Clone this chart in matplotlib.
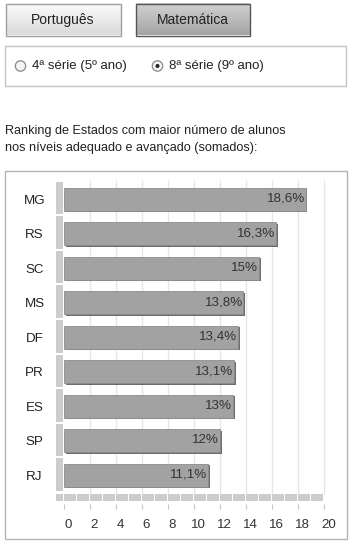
import numpy as np
import matplotlib
matplotlib.use("Agg")
import matplotlib.pyplot as plt
from matplotlib.patches import Rectangle, Circle
import matplotlib.patheffects as pe
import matplotlib.transforms as mtransforms

plt.rcParams['font.family'] = ['Liberation Sans', 'DejaVu Sans']

# ---- data ----
states = ["MG", "RS", "SC", "MS", "DF", "PR", "ES", "SP", "RJ"]
values = [18.6, 16.3, 15.0, 13.8, 13.4, 13.1, 13.0, 12.0, 11.1]
xticks = list(range(0, 21, 2))
title_lines = ["Ranking de Estados com maior número de alunos",
               "nos níveis adequado e avançado (somados):"]
buttons = ["Português", "Matemática"]
radio_labels = ["4ª série (5º ano)", "8ª série (9º ano)"]

W, H = 349, 544
fig = plt.figure(figsize=(W / 100, H / 100), dpi=100)
fig.patch.set_facecolor("white")

# ---- background / decoration axes in pixel coordinates ----
bg = fig.add_axes([0, 0, 1, 1])
bg.set_xlim(0, W)
bg.set_ylim(H, 0)
bg.axis("off")

def grad_button(x0, y0, x1, y1, ctop, cbot, edge, label):
    g = np.linspace(0, 1, 64).reshape(-1, 1)
    c0 = np.array(matplotlib.colors.to_rgb(ctop))
    c1 = np.array(matplotlib.colors.to_rgb(cbot))
    img = c0[None, None, :] * (1 - g[:, :, None]) + c1[None, None, :] * g[:, :, None]
    bg.imshow(img, extent=(x0, x1, y1, y0), aspect="auto", zorder=1)
    bg.add_patch(Rectangle((x0, y0), x1 - x0, y1 - y0, fill=False,
                           edgecolor=edge, lw=1.0, zorder=2))
    bg.text((x0 + x1) / 2, (y0 + y1) / 2 + 0.5, label, ha="center", va="center",
            fontsize=10, color="#222222", zorder=3)

grad_button(5.5, 3.5, 120.5, 35.5, "#fbfbfb", "#dadada", "#a0a0a0", buttons[0])
grad_button(135.5, 3.5, 249.5, 35.5, "#d2d2d2", "#a4a4a4", "#555555", buttons[1])

# radio box
bg.add_patch(Rectangle((4.5, 45.5), 341, 40, fill=False, edgecolor="#c4c4c4", lw=1.0))
for cx, lab, sel in [(20.5, radio_labels[0], False), (157.5, radio_labels[1], True)]:
    bg.add_patch(Circle((cx, 66), 5.2, facecolor="#f4f4f4", edgecolor="#8a8a8a", lw=0.9))
    if sel:
        bg.add_patch(Circle((cx, 66), 2.0, facecolor="#222222", edgecolor="none"))
    bg.text(cx + 11.5, 66.5, lab, ha="left", va="center", fontsize=9.5, color="#222222")

# title
bg.text(5, 131, title_lines[0], ha="left", va="center", fontsize=9.1, color="#222222")
bg.text(5, 148, title_lines[1], ha="left", va="center", fontsize=9.1, color="#222222")

# chart frame
bg.add_patch(Rectangle((4.5, 170.5), 342, 368, fill=False, edgecolor="#b4b4b4", lw=1.0))

# ---- chart axes ----
L, R, T, B = 64, 324, 182, 492.5
ax = fig.add_axes([L / W, (H - B) / H, (R - L) / W, (B - T) / H])
ax.set_facecolor("none")
n = len(states)
ax.set_xlim(0, 20)
ax.set_ylim(n - 0.5, -0.5)
for s in ["top", "right", "left"]:
    ax.spines[s].set_visible(False)
ax.spines["bottom"].set_position(("outward", 8.5))
ax.spines["bottom"].set_visible(False)

pxx = (R - L) / 20.0       # pixels per x unit
pxy = (B - T) / n          # pixels per band

# gridlines
for xv in xticks[1:]:
    ax.plot([xv, xv], [-0.5 - 1 / pxy, n - 0.5 + 1.5 / pxy], color="#e6e6e6",
            lw=1.0, zorder=0, clip_on=False)

# left strip segments
for i in range(n):
    ax.add_patch(Rectangle((-8 / pxx, i - 0.5), 7 / pxx, 1 - 2 / pxy,
                           facecolor="#cccccc", edgecolor="none", clip_on=False, zorder=1))
# bottom strip segments
ybs = n - 0.5 + 1.5 / pxy
hbs = 7 / pxy
ax.add_patch(Rectangle((-8 / pxx, ybs), 7 / pxx, hbs, facecolor="#cccccc",
                       edgecolor="none", clip_on=False, zorder=1))
for k in range(20):
    ax.add_patch(Rectangle((k, ybs), 1 - 1 / pxx, hbs, facecolor="#cccccc",
                           edgecolor="none", clip_on=False, zorder=1))

# bars
bars = ax.barh(range(n), values, height=0.67, color="#a2a2a2",
               edgecolor="#8c8c8c", linewidth=0.6, zorder=3)
for b in bars:
    b.set_path_effects([pe.SimplePatchShadow(offset=(1.2, -1.2), shadow_rgbFace="#3c3c3c",
                                             alpha=0.75),
                        pe.Normal()])

def fmt(v):
    s = ("%.1f" % v).replace(".", ",")
    if s.endswith(",0"):
        s = s[:-2]
    return s + "%"

for i, v in enumerate(values):
    ax.annotate(fmt(v), (v, i), xytext=(-0.5, 0.5), textcoords="offset points",
                ha="right", va="center", fontsize=9.6, color="#333333", zorder=4)

ax.set_yticks(range(n))
ax.set_yticklabels(states, ha="center", fontsize=9.6, color="#222222")
ax.tick_params(axis="y", length=0, pad=29.5 * 0.72)

ax.set_xticks(xticks)
ax.set_xticklabels([str(t) for t in xticks], fontsize=9.6, color="#333333")
ax.tick_params(axis="x", length=5 * 0.72, width=0.8, color="#c4c4c4", pad=7)
shift = mtransforms.ScaledTranslation(4.5 / 100, 0, fig.dpi_scale_trans)
for lab in ax.get_xticklabels():
    lab.set_transform(lab.get_transform() + shift)

fig.savefig("out.png", dpi=100, facecolor="white")
